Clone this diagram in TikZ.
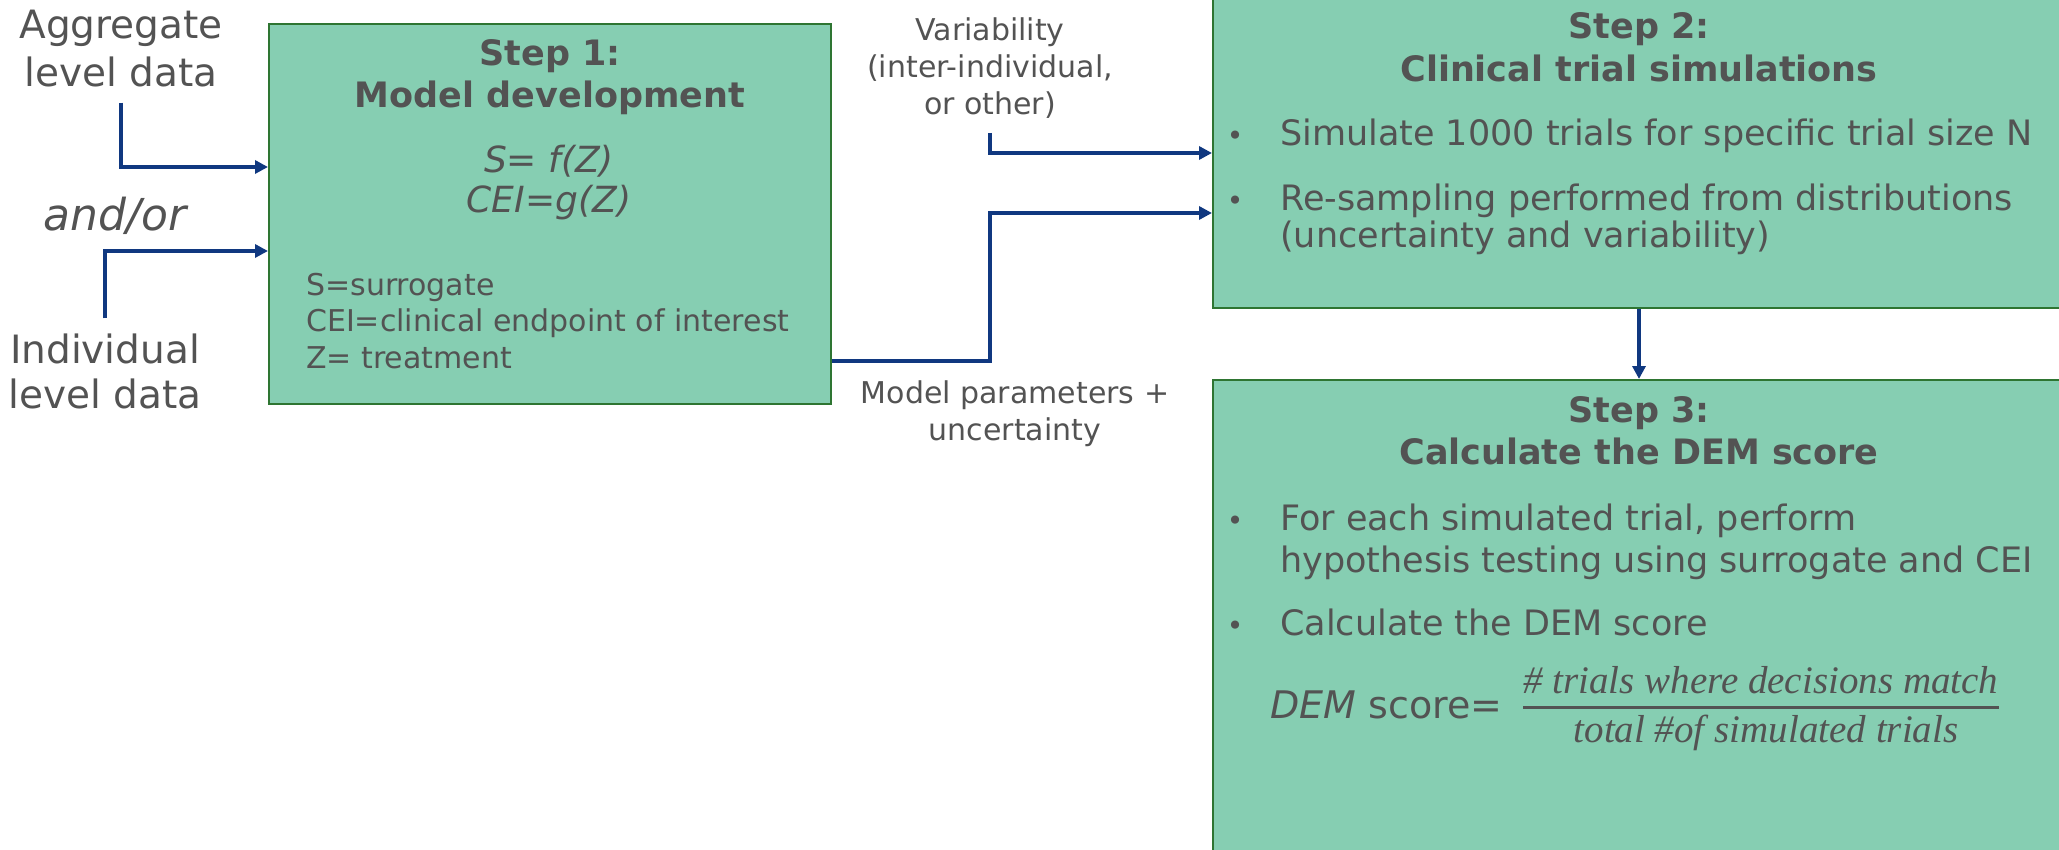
\documentclass[tikz,border=0pt]{standalone}
\usepackage{fontspec}
\setmainfont{DejaVu Sans}
\newfontfamily\fracfont{Liberation Serif}
\usetikzlibrary{arrows.meta,positioning}

\definecolor{boxfill}{RGB}{134,206,178}
\definecolor{boxline}{RGB}{46,117,50}
\definecolor{textgray}{RGB}{83,83,83}
\definecolor{flowblue}{RGB}{16,56,128}

\newcommand\sz[2]{\fontsize{#1}{#2}\selectfont}

\tikzset{
  stepbox/.style={draw=boxline, fill=boxfill, line width=2pt, inner sep=0pt},
  lbl/.style={text=textgray, inner sep=0pt, align=center},
  title/.style={lbl, font={\sz{35}{42}\bfseries}, anchor=base},
  item/.style={lbl, align=left, anchor=base west, font={\sz{35}{42}}},
  dot/.style={lbl, anchor=base, font={\sz{28}{30}}},
  frac/.style={lbl, font={\fracfont\itshape\sz{39}{44}}},
  fracbar/.style={draw=textgray, line width=3pt},
  flow/.style={draw=flowblue, line width=4pt, -{Triangle[length=13pt,width=13pt]}},
}

\begin{document}
\begin{tikzpicture}[x=1pt, y=-1pt]
  \path[use as bounding box, clip] (0,0) rectangle (2059,850);

  % data sources (base = last line)
  \node[lbl, font={\sz{39}{48}}, anchor=base, outer sep=15pt] (aggr) at (121,87) {Aggregate\\level data};
  \node[lbl, font={\sz{44}{48}\itshape}, anchor=base] (andor) at (115,231) {and/or};
  \node[lbl, font={\sz{39}{45}}, anchor=base, outer sep=15pt] (indiv) at (105,408) {Individual\\level data};

  % step 1
  \node[stepbox, minimum width=562pt, minimum height=380pt] (dev) at (550,214) {};
  \node[title] (dev-title) at (550,108) {Step 1:\\Model development};
  \node[lbl, font={\sz{36}{40}\itshape}, anchor=base] (dev-eq) at (549,213) {S= f(Z)\\CEI=g(Z)};
  \node[lbl, font={\sz{30}{36.5}}, align=left, anchor=base west] (dev-key) at (306,368)
    {S=surrogate\\CEI=clinical endpoint of interest\\Z= treatment};

  % side labels
  \node[lbl, font={\sz{30}{37}}, anchor=base, outer sep=14pt] (vari) at (990,115) {Variability\\(inter-individual,\\or other)};
  \node[lbl, font={\sz{30}{37}}, anchor=base] (params) at (1015,440) {Model parameters +\\uncertainty};

  % step 2
  \node[stepbox, minimum width=852pt, minimum height=328pt] (sim) at (1639,144) {};
  \node[title, font={\sz{35}{43}\bfseries}] (sim-title) at (1639,82) {Step 2:\\Clinical trial simulations};
  \node[dot] (sim-b1) at (1235,146) {\textbullet};
  \node[item] (sim-t1) at (1280,146) {Simulate 1000 trials for specific trial size N};
  \node[dot] (sim-b2) at (1235,211) {\textbullet};
  \node[item, font={\sz{35}{37.5}}] (sim-t2) at (1280,248) {Re-sampling performed from distributions\\(uncertainty and variability)};

  % step 3
  \node[stepbox, minimum width=852pt, minimum height=490pt] (dem) at (1639,625) {};
  \node[title] (dem-title) at (1639,464) {Step 3:\\Calculate the DEM score};
  \node[dot] (dem-b1) at (1235,530) {\textbullet};
  \node[item] (dem-t1) at (1280,572) {For each simulated trial, perform\\hypothesis testing using surrogate and CEI};
  \node[dot] (dem-b2) at (1235,635) {\textbullet};
  \node[item] (dem-t2) at (1280,635) {Calculate the DEM score};
  \node[lbl, font={\sz{38}{44}}, anchor=base west] (dem-lhs) at (1270,718) {\textit{DEM} score=};
  \node[frac, anchor=base west] (num) at (1523,693) {\# trials where decisions match};
  \node[frac, anchor=base] (den) at (1766,742) {total \#of simulated trials};
  \draw[fracbar] ([yshift=-14pt]num.base west) -- ([yshift=-14pt]num.base east);

  % connectors
  \coordinate (into-sim) at ([yshift=-69pt]sim.west);
  \draw[flow] (aggr.south) |- ([yshift=47pt]dev.west);
  \draw[flow] (indiv.north) |- ([yshift=-37pt]dev.west);
  \draw[flow] (vari.south) |- ([yshift=-9pt]sim.west);
  \draw[flow] ([yshift=-147pt]dev.east) -| (vari.south |- into-sim) -- (into-sim);
  \draw[flow] (sim.south) -- (dem.north);
\end{tikzpicture}
\end{document}
